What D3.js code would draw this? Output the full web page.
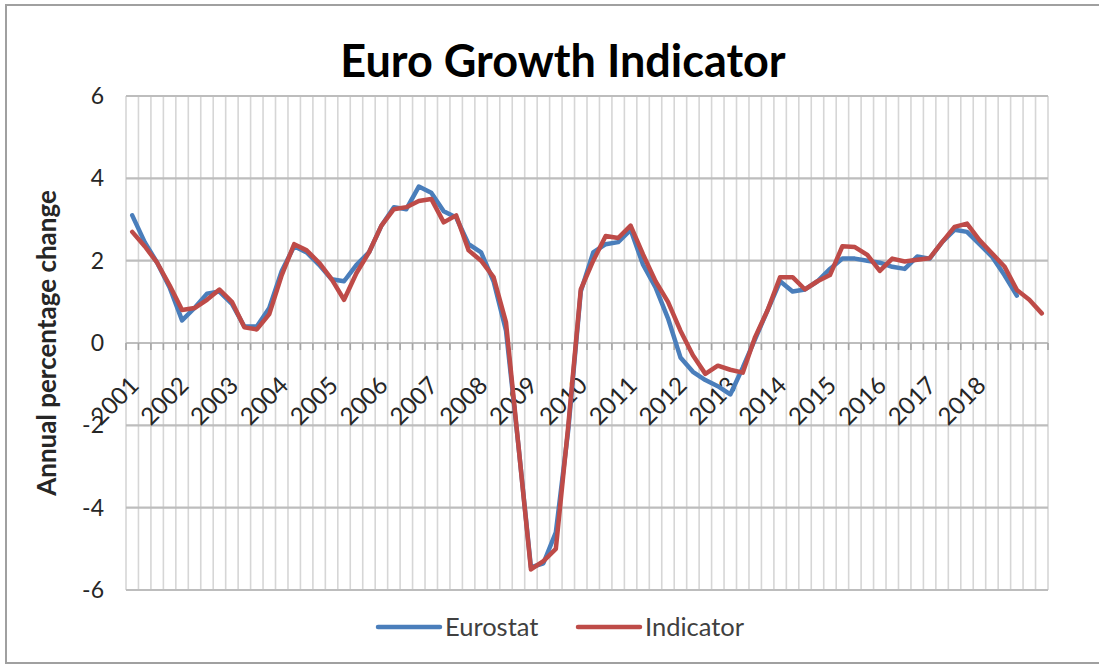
<!DOCTYPE html>
<html>
<head>
<meta charset="utf-8">
<script src="https://cdn.jsdelivr.net/npm/d3@7"></script>
<style>
  html, body { margin: 0; padding: 0; background: #ffffff; }
  svg { display: block; font-family: Lato, "Open Sans", sans-serif; }
</style>
</head>
<body>
<svg id="chart" width="1099" height="665"></svg>
<script>
// ---------------- data ----------------
const years = ["2001","2002","2003","2004","2005","2006","2007","2008","2009","2010",
               "2011","2012","2013","2014","2015","2016","2017","2018","2019"];
const quarters = ["Q1","Q2","Q3","Q4"];
const categories = years.flatMap(y => quarters.map(q => y + q)).slice(0, 74);
const tickLabels = ["2001","2002","2003","2004","2005","2006","2007","2008","2009",
                    "2010","2011","2012","2013","2014","2015","2016","2017","2018"];
const yTicks = [-6, -4, -2, 0, 2, 4, 6];

const eurostat = [
  3.1, 2.45, 1.95, 1.35, 0.55, 0.85, 1.2, 1.25, 0.95, 0.4,
  0.4, 0.85, 1.75, 2.35, 2.2, 1.9, 1.55, 1.5, 1.9, 2.2,
  2.85, 3.3, 3.25, 3.8, 3.65, 3.2, 3.05, 2.4, 2.2, 1.5,
  0.3, -2.5, -5.45, -5.35, -4.6, -2.1, 1.25, 2.2, 2.4, 2.45,
  2.75, 1.9, 1.35, 0.6, -0.35, -0.7, -0.9, -1.05, -1.25, -0.6,
  0.1, 0.8, 1.5, 1.25, 1.3, 1.5, 1.8, 2.05, 2.05, 2.0,
  1.95, 1.85, 1.8, 2.1, 2.05, 2.45, 2.75, 2.7, 2.4, 2.1,
  1.65, 1.15
];
const indicator = [
  2.7, 2.35, 1.95, 1.4, 0.8, 0.85, 1.05, 1.3, 1.0, 0.38,
  0.33, 0.7, 1.65, 2.4, 2.25, 1.95, 1.55, 1.05, 1.7, 2.2,
  2.85, 3.25, 3.3, 3.45, 3.5, 2.93, 3.1, 2.25, 2.0, 1.6,
  0.5, -2.5, -5.5, -5.3, -5.0, -2.0, 1.3, 2.0, 2.6, 2.55,
  2.85, 2.15, 1.5, 1.0, 0.3, -0.3, -0.75, -0.55, -0.65, -0.72,
  0.15, 0.8, 1.6, 1.6, 1.3, 1.5, 1.65, 2.35, 2.33, 2.14,
  1.75, 2.05, 1.98, 2.02, 2.06, 2.45, 2.82, 2.9, 2.5, 2.18,
  1.86, 1.29, 1.05, 0.72
];
const seriesNames = ["Eurostat", "Indicator"];
const seriesColors = ["#4A7EBB", "#BE4B48"];

// ---------------- layout ----------------
const svg = d3.select("#chart");
const plot = { left: 126, right: 1048, top: 96, bottom: 590 };

const x = d3.scaleBand().domain(categories).range([plot.left, plot.right]).padding(0);
const y = d3.scaleLinear().domain([-6, 6]).range([plot.bottom, plot.top]);
const bw = x.bandwidth();

// outer frame
svg.append("rect")
  .attr("x", 6).attr("y", 5).attr("width", 1110).attr("height", 658)
  .attr("fill", "#ffffff").attr("stroke", "#a0a0a0").attr("stroke-width", 2);

// vertical gridlines at category boundaries
const boundaries = categories.map(c => x(c)).concat([x(categories[categories.length - 1]) + bw]);
svg.append("g").selectAll("line").data(boundaries).join("line")
  .attr("x1", d => d).attr("x2", d => d)
  .attr("y1", y(6)).attr("y2", y(-6))
  .attr("stroke", "#d6d6d6").attr("stroke-width", 1.6);

// horizontal gridlines
svg.append("g").selectAll("line").data(yTicks).join("line")
  .attr("x1", plot.left).attr("x2", plot.right)
  .attr("y1", d => y(d)).attr("y2", d => y(d))
  .attr("stroke", "#bdbdbd").attr("stroke-width", 2.2);

// category tick marks below the zero axis
svg.append("g").selectAll("line").data(boundaries).join("line")
  .attr("x1", d => d).attr("x2", d => d)
  .attr("y1", y(0)).attr("y2", y(0) + 7)
  .attr("stroke", "#a6a6a6").attr("stroke-width", 1.6);

// y axis labels
const yAxis = d3.axisLeft(y).tickValues(yTicks).tickSize(0).tickPadding(0)
  .tickFormat(d => d3.format("d")(d).replace("−", "-"));
const gy = svg.append("g").attr("transform", `translate(104,0)`).call(yAxis);
gy.select(".domain").remove();
gy.selectAll("text")
  .attr("font-family", "Lato, sans-serif")
  .attr("font-size", 23).attr("fill", "#262626");

// x axis labels (crossing at zero)
const xAxis = d3.axisBottom(x)
  .tickValues(tickLabels.map(t => t + "Q1"))
  .tickFormat(d => d.slice(0, 4))
  .tickSize(0);
const gx = svg.append("g").attr("transform", `translate(0,${y(0)})`).call(xAxis);
gx.select(".domain").remove();
gx.selectAll("text")
  .attr("font-family", "Lato, sans-serif")
  .attr("font-size", 24).attr("fill", "#262626")
  .attr("text-anchor", "end")
  .attr("x", 0).attr("y", 0).attr("dy", 0)
  .attr("transform", "translate(8,44) rotate(-45)");

// lines
const line = d3.line()
  .x((d, i) => x(categories[i]) + bw / 2)
  .y(d => y(d));
[eurostat, indicator].forEach((vals, k) => {
  svg.append("path")
    .datum(vals)
    .attr("d", line)
    .attr("fill", "none")
    .attr("stroke", seriesColors[k])
    .attr("stroke-width", 4.5)
    .attr("stroke-linejoin", "round")
    .attr("stroke-linecap", "round");
});

// title
svg.append("text")
  .attr("x", 563).attr("y", 77)
  .attr("text-anchor", "middle")
  .attr("font-family", "Lato, sans-serif")
  .attr("font-weight", 700).attr("font-size", 45)
  .attr("fill", "#000000")
  .text("Euro Growth Indicator");

// y axis title
svg.append("text")
  .attr("transform", `translate(56,${(y(6) + y(-6)) / 2}) rotate(-90)`)
  .attr("text-anchor", "middle")
  .attr("font-family", "Lato, sans-serif")
  .attr("font-weight", 700).attr("font-size", 26)
  .attr("fill", "#262626")
  .text("Annual percentage change");

// legend
const legendItems = [
  { name: seriesNames[0], color: seriesColors[0], x0: 378 },
  { name: seriesNames[1], color: seriesColors[1], x0: 578 }
];
const lg = svg.append("g");
legendItems.forEach(it => {
  lg.append("line")
    .attr("x1", it.x0).attr("x2", it.x0 + 62)
    .attr("y1", 627).attr("y2", 627)
    .attr("stroke", it.color).attr("stroke-width", 4.5)
    .attr("stroke-linecap", "round");
  lg.append("text")
    .attr("x", it.x0 + 67).attr("y", 636)
    .attr("font-family", "Lato, sans-serif")
    .attr("font-size", 25.5).attr("fill", "#404040")
    .text(it.name);
});
</script>
</body>
</html>
